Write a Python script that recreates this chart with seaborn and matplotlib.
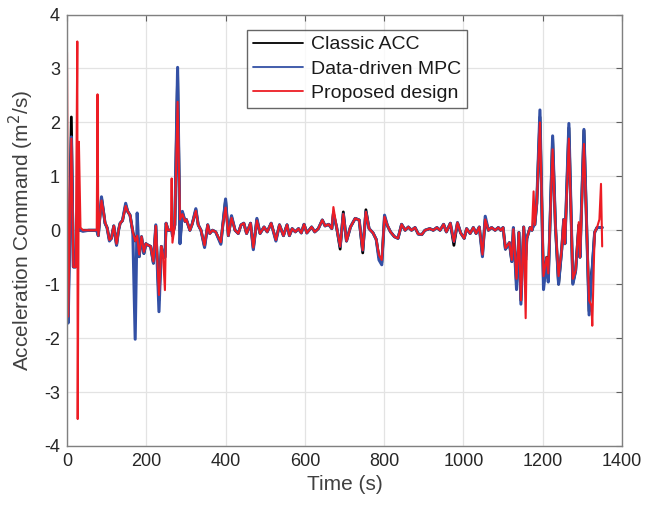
import matplotlib
matplotlib.use("Agg")
import matplotlib.pyplot as plt
import seaborn as sns
import pandas as pd

TIME = [0, 3, 11, 16, 22, 26, 27, 30, 34, 40, 55, 75, 77, 79, 87, 92, 96, 101, 107, 112,
        118, 125, 130, 134, 140, 148, 153, 159, 166, 172, 177, 182, 188, 194, 199, 203, 211, 218, 224, 232,
        238, 242, 247, 250, 255, 262, 264, 266, 272, 279, 285, 291, 298, 301, 310, 316, 325, 331, 338, 347,
        355, 360, 367, 375, 388, 393, 400, 407, 415, 424, 432, 439, 446, 453, 463, 470, 479, 487, 497, 505,
        515, 527, 536, 546, 555, 561, 568, 576, 584, 591, 598, 605, 617, 625, 634, 644, 651, 660, 668, 672,
        680, 689, 697, 705, 715, 727, 737, 746, 754, 762, 772, 780, 787, 794, 801, 808, 816, 826, 835, 844,
        853, 861, 869, 878, 886, 895, 903, 915, 924, 933, 941, 950, 957, 967, 976, 985, 993, 1002, 1008, 1017,
        1025, 1032, 1040, 1048, 1055, 1063, 1071, 1080, 1088, 1094, 1100, 1106, 1116, 1122, 1126, 1134, 1140, 1145, 1152, 1157,
        1160, 1168, 1173, 1177, 1180, 1185, 1193, 1202, 1210, 1214, 1225, 1232, 1240, 1248, 1253, 1256, 1266, 1276, 1283, 1291,
        1294, 1304, 1317, 1323, 1325, 1331, 1337, 1343, 1347, 1350]

CLASSIC_ACC = [0.0, -1.60, 2.10, -0.68, -0.68, 0.10, 0.05, 0.0, 0.0, 0.0, 0.0, 0.0, -0.05, -0.10, 0.60, 0.35, 0.13, 0.05, -0.18, -0.15,
               0.08, -0.27, 0.0, 0.13, 0.18, 0.47, 0.35, 0.28, -0.03, -0.20, -0.10, -0.49, -0.12, -0.43, -0.25, -0.27, -0.30, -0.61, 0.08, -1.30,
               -0.30, -0.45, -0.50, 0.13, 0.0, 0.0, 0.05, -0.10, 0.10, 2.90, -0.20, 0.33, 0.16, 0.20, 0.0, 0.12, 0.38, 0.10, 0.0, -0.30,
               0.10, -0.06, 0.0, -0.03, -0.24, 0.10, 0.56, -0.10, 0.25, 0.0, -0.06, 0.10, 0.13, -0.06, 0.13, -0.34, 0.20, -0.06, 0.06, -0.03,
               0.13, -0.18, 0.10, -0.10, 0.10, -0.10, 0.03, -0.03, 0.03, -0.05, 0.11, -0.05, 0.06, -0.03, 0.03, 0.19, 0.08, 0.11, 0.03, 0.31,
               0.06, -0.35, 0.34, -0.20, 0.06, 0.22, 0.19, -0.42, 0.38, 0.03, -0.05, -0.17, -0.50, -0.60, 0.25, 0.09, -0.03, -0.12, -0.15, 0.11,
               0.0, 0.06, 0.0, 0.05, -0.07, -0.08, 0.0, 0.03, 0.0, 0.05, 0.0, 0.11, -0.03, 0.13, -0.28, 0.14, -0.05, -0.15, 0.03, -0.06,
               0.05, -0.06, 0.06, -0.45, 0.20, 0.0, 0.05, 0.0, 0.05, 0.0, 0.05, -0.35, -0.23, -0.58, 0.04, -1.00, -0.04, -1.30, 0.06, -0.50,
               -0.15, 0.05, 0.0, 0.10, 0.10, 0.50, 2.10, -1.00, -0.50, -0.90, 1.70, 0.10, -1.00, -0.35, 0.20, -0.25, 1.90, -0.98, -0.75, 0.10,
               -0.50, 1.85, -1.50, -0.80, -0.70, -0.04, 0.05, 0.05, 0.05, 0.05]

DATA_DRIVEN_MPC = [0.0, -1.72, 1.73, -0.68, -0.68, 0.10, 0.05, 0.0, 0.0, -0.02, 0.0, 0.0, -0.05, -0.10, 0.62, 0.35, 0.13, 0.05, -0.20, -0.15,
                   0.08, -0.28, 0.0, 0.13, 0.18, 0.50, 0.35, 0.28, -0.03, -2.02, 0.32, -0.49, -0.12, -0.43, -0.25, -0.27, -0.30, -0.61, 0.10, -1.51,
                   -0.30, -0.50, -0.50, 0.13, 0.0, 0.0, 0.05, -0.10, 0.10, 3.02, -0.25, 0.35, 0.16, 0.20, 0.0, 0.12, 0.40, 0.10, 0.0, -0.32,
                   0.10, -0.06, 0.0, -0.03, -0.26, 0.10, 0.58, -0.10, 0.27, 0.0, -0.06, 0.10, 0.13, -0.06, 0.13, -0.36, 0.22, -0.06, 0.06, -0.03,
                   0.13, -0.20, 0.10, -0.10, 0.10, -0.10, 0.03, -0.03, 0.03, -0.05, 0.11, -0.05, 0.06, -0.03, 0.03, 0.19, 0.08, 0.11, 0.03, 0.31,
                   0.06, -0.30, 0.30, -0.20, 0.06, 0.22, 0.19, -0.37, 0.34, 0.03, -0.05, -0.17, -0.55, -0.64, 0.28, 0.09, -0.03, -0.12, -0.15, 0.11,
                   0.0, 0.06, 0.0, 0.05, -0.07, -0.08, 0.0, 0.03, 0.0, 0.05, 0.0, 0.11, -0.03, 0.13, -0.21, 0.14, -0.05, -0.15, 0.03, -0.06,
                   0.05, -0.06, 0.06, -0.49, 0.26, 0.0, 0.05, 0.0, 0.05, 0.0, 0.05, -0.35, -0.23, -0.58, 0.05, -1.10, -0.04, -1.37, 0.06, -0.55,
                   -0.15, 0.05, 0.0, 0.10, 0.10, 0.50, 2.23, -1.10, -0.52, -0.96, 1.75, 0.10, -1.00, -0.35, 0.20, -0.25, 1.98, -1.00, -0.75, 0.06,
                   -0.50, 1.87, -1.57, -0.86, -0.70, -0.04, 0.05, 0.05, 0.05, 0.05]

PROPOSED_DESIGN = [3.30, -1.60, 1.70, -0.68, -0.68, 3.50, -3.50, 1.64, 0.05, 0.0, 0.0, 0.0, 2.52, -0.10, 0.55, 0.35, 0.15, 0.05, -0.18, -0.15,
                   0.08, -0.25, 0.0, 0.13, 0.18, 0.45, 0.35, 0.28, -0.03, -0.20, -0.10, -0.45, -0.12, -0.40, -0.25, -0.27, -0.30, -0.58, 0.08, -1.20,
                   -0.30, -0.45, -1.11, 0.13, 0.0, 0.0, 0.96, -0.23, 0.10, 2.38, 0.20, 0.30, 0.16, 0.20, 0.0, 0.12, 0.36, 0.10, 0.0, -0.28,
                   0.10, -0.06, 0.0, -0.03, -0.22, 0.10, 0.42, -0.10, 0.23, 0.0, -0.06, 0.10, 0.13, -0.06, 0.13, -0.32, 0.18, -0.06, 0.06, -0.03,
                   0.13, -0.18, 0.10, -0.10, 0.10, -0.10, 0.03, -0.03, 0.03, -0.05, 0.11, -0.05, 0.06, -0.03, 0.03, 0.19, 0.08, 0.11, 0.03, 0.43,
                   0.06, -0.30, 0.30, -0.20, 0.06, 0.22, 0.19, -0.37, 0.34, 0.03, -0.05, -0.17, -0.46, -0.55, 0.25, 0.09, -0.03, -0.12, -0.15, 0.11,
                   0.0, 0.06, 0.0, 0.05, -0.07, -0.08, 0.0, 0.03, 0.0, 0.05, 0.0, 0.11, -0.03, 0.13, -0.21, 0.14, -0.05, -0.15, 0.03, -0.06,
                   0.05, -0.06, 0.06, -0.45, 0.20, 0.0, 0.05, 0.0, 0.05, 0.0, 0.05, -0.33, -0.23, -0.55, 0.02, -0.90, -0.04, -1.30, 0.06, -1.63,
                   -0.15, 0.05, 0.0, 0.72, 0.10, 0.50, 2.00, -0.85, -0.50, -0.80, 1.50, 0.10, -0.85, -0.35, 0.20, -0.25, 1.70, -0.90, -0.75, 0.15,
                   -0.50, 1.60, -1.30, -1.40, -1.77, -0.04, 0.05, 0.20, 0.86, -0.30]

SERIES_NAMES = ["Classic ACC", "Data-driven MPC", "Proposed design"]
X_TICKS = [0, 200, 400, 600, 800, 1000, 1200, 1400]
Y_TICKS = [-4, -3, -2, -1, 0, 1, 2, 3, 4]

sns.set_style("white")
plt.rcParams['font.family'] = ['Liberation Sans', 'DejaVu Sans']

fig = plt.figure(figsize=(6.47, 5.14), dpi=100)
ax = fig.add_axes([67/647, 1 - 446/514, (622 - 67)/647, (446 - 14.5)/514])

df_acc = pd.DataFrame({"t": TIME, "v": CLASSIC_ACC})
df_mpc = pd.DataFrame({"t": TIME, "v": DATA_DRIVEN_MPC})
df_pro = pd.DataFrame({"t": TIME, "v": PROPOSED_DESIGN})

styles = [("#000000", 2.0), ("#3350A5", 2.2), ("#ED1C24", 1.5)]
for d, name, (c, lw) in zip([df_acc, df_mpc, df_pro], SERIES_NAMES, styles):
    sns.lineplot(data=d, x="t", y="v", ax=ax, color=c, linewidth=lw, label=name,
                 estimator=None, sort=False)

ax.set_xlim(0, 1400)
ax.set_ylim(-4, 4)
ax.set_xticks(X_TICKS)
ax.set_yticks(Y_TICKS)
ax.set_xticklabels([str(v) for v in X_TICKS])
ax.set_yticklabels([str(v) for v in Y_TICKS])
ax.grid(True, color="#e3e3e3", linewidth=0.9)
ax.set_axisbelow(True)
for s in ax.spines.values():
    s.set_color("#808080")
    s.set_linewidth(1.0)
ax.tick_params(direction="in", top=True, right=True, length=4, width=0.8,
               color="#606060", labelsize=13, labelcolor="#262626", pad=5)
ax.set_xlabel("Time (s)", fontsize=15, color="#404040", labelpad=4)
ax.set_ylabel("Acceleration Command (m$^2$/s)", fontsize=15, color="#404040", labelpad=6)

leg = ax.legend(loc="upper left", bbox_to_anchor=(247/647, 1 - 30/514),
                bbox_transform=fig.transFigure, fontsize=14, frameon=True,
                fancybox=False, borderaxespad=0, handlelength=2.6,
                handletextpad=0.4, labelspacing=0.35, borderpad=0.3)
leg.get_frame().set_edgecolor("#404040")
leg.get_frame().set_linewidth(1.0)
for h in leg.get_lines():
    h.set_linewidth(1.3)
for t in leg.get_texts():
    t.set_color("#1a1a1a")

fig.savefig("out.png", dpi=100)
